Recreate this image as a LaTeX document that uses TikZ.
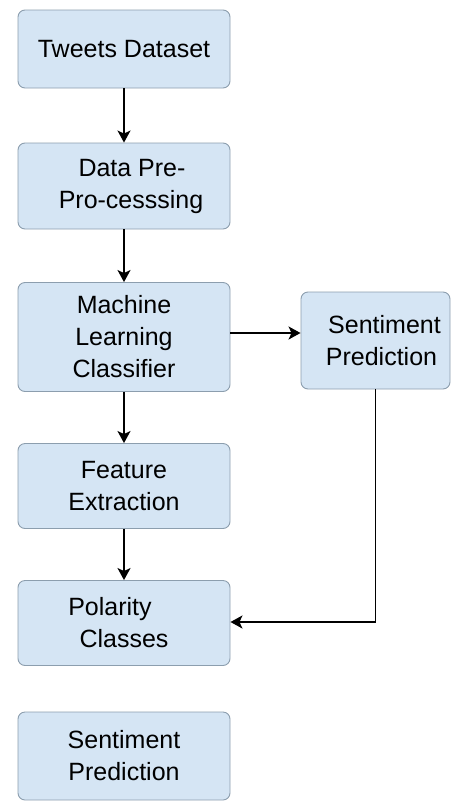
\documentclass[tikz,border=0pt]{standalone}
\usepackage{fontspec}
\setmainfont{Liberation Sans}
\usetikzlibrary{arrows.meta}
\definecolor{boxfill}{RGB}{213,229,244}
\definecolor{boxline}{RGB}{140,158,174}
\begin{document}
\begin{tikzpicture}[x=1pt,y=-1pt,
  stagebox/.style={draw=boxline,fill=boxfill,line width=0.9pt,rounded corners=7pt,
    inner sep=0pt,align=center,font=\fontsize{25}{32}\selectfont},
  flow/.style={line width=1.7pt,-{Stealth[length=12pt,width=13pt,inset=3pt]}}]
\useasboundingbox (0,0) rectangle (452,801);
% main column
\node[stagebox,minimum width=212pt,minimum height=78pt] (tweets) at (124,49) {Tweets Dataset};
\node[stagebox,minimum width=212pt,minimum height=86pt] (prep) at (124,186) {\hspace*{16pt}Data Pre-\\\hspace*{14pt}Pro-cesssing};
\node[stagebox,minimum width=212pt,minimum height=109pt] (mlc) at (124,337) {Machine\\Learning\\Classifier};
\node[stagebox,minimum width=212pt,minimum height=85pt] (feat) at (124,486) {Feature\\Extraction};
\node[stagebox,minimum width=212pt,minimum height=85pt] (pol) at (124,623) {Polarity\hspace*{28pt}\\Classes};
\node[stagebox,minimum width=212pt,minimum height=88pt] (sentb) at (124,756) {Sentiment\\Prediction};
% side branch
\node[stagebox,minimum width=149pt,minimum height=97pt] (sentr) at (375.5,340.5) {\hspace*{18pt}Sentiment\\\hspace*{12pt}Prediction};
\coordinate (turn) at (375.5,622);
% connectors
\draw[flow] (tweets) -- (prep);
\draw[flow] (prep) -- (mlc);
\draw[flow] (mlc) -- (feat);
\draw[flow] (feat) -- (pol);
\draw[flow] (mlc.east |- 0,333) -- (sentr.west |- 0,333);
\draw[flow] (sentr.south) -- (turn) -- (pol.east |- turn);
\end{tikzpicture}
\end{document}
